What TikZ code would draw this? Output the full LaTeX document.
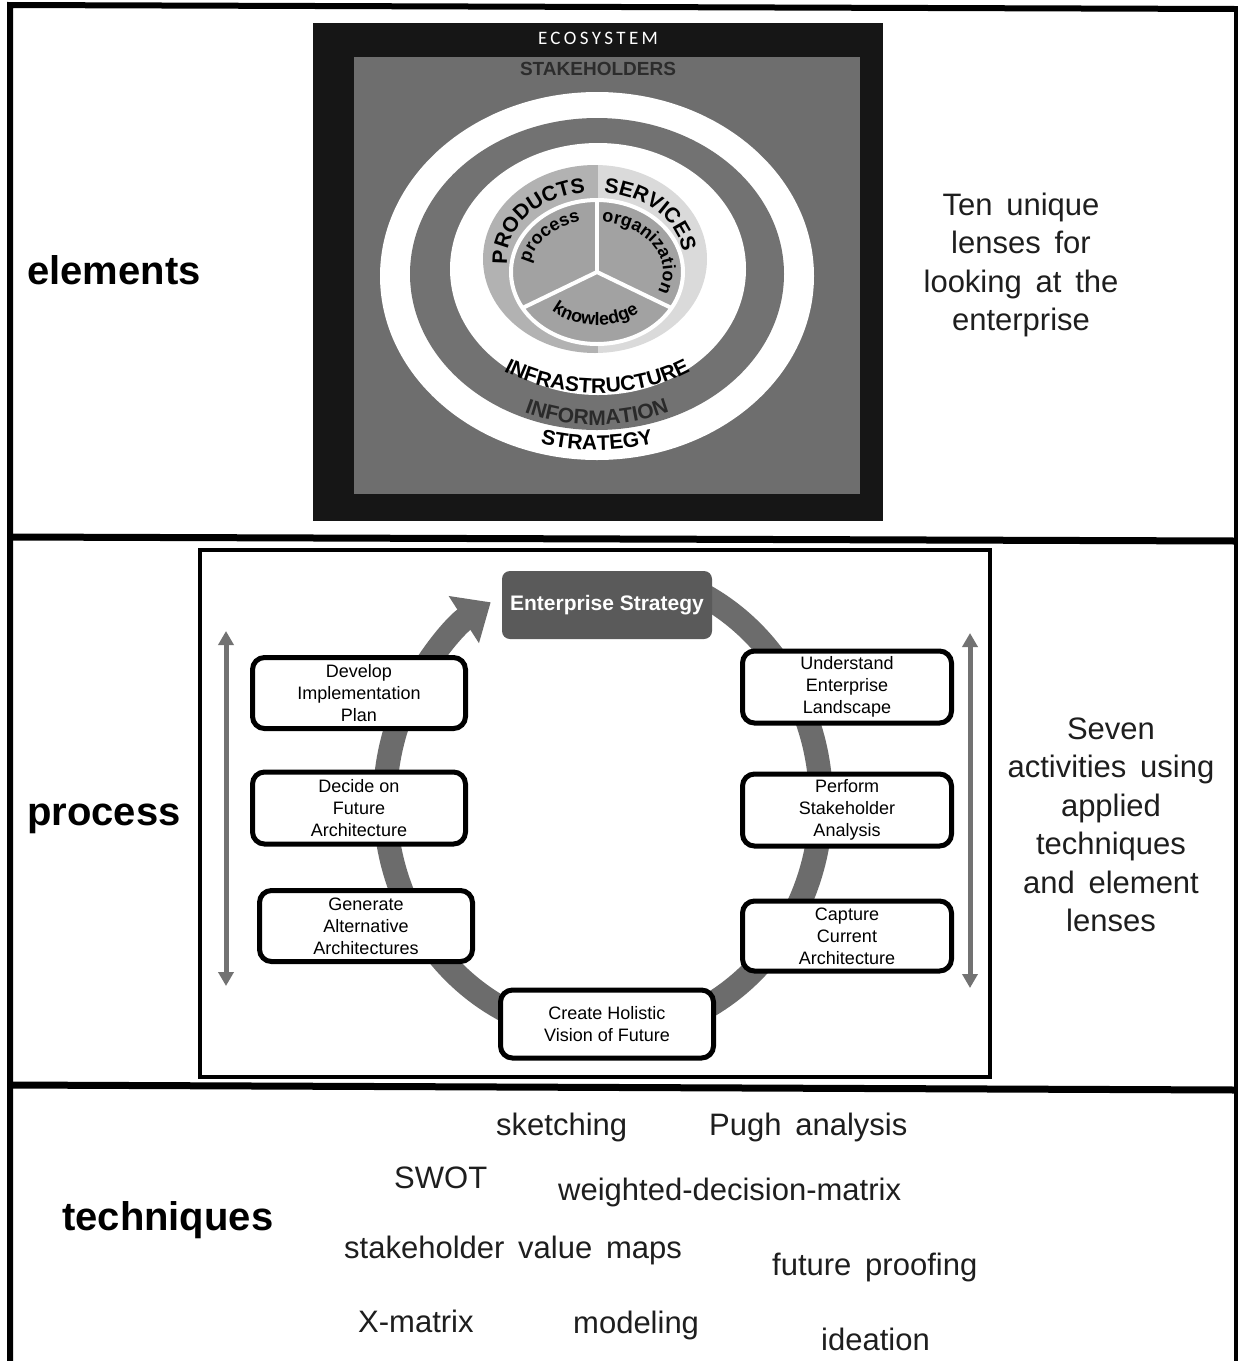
\documentclass[tikz,border=0pt]{standalone}
\usepackage{fontspec}
\setmainfont{Liberation Sans}
\newfontfamily\ecofont[LetterSpace=18]{Carlito}
\newfontfamily\widefont[WordSpace=1.6]{Liberation Sans}
\usetikzlibrary{arrows.meta,decorations.text,calc}

\definecolor{ecoblack}{HTML}{161616}
\definecolor{ecogray}{HTML}{6E6E6E}
\definecolor{ringgray}{HTML}{727272}
\definecolor{prodgray}{HTML}{B2B2B2}
\definecolor{servgray}{HTML}{DADADA}
\definecolor{piegray}{HTML}{A2A2A2}
\definecolor{stakegray}{HTML}{2C2C2C}
\definecolor{infogray}{HTML}{2A2A2A}
\definecolor{cyclegray}{HTML}{6C6C6C}
\definecolor{esgray}{HTML}{5A5A5A}
\definecolor{vgray}{HTML}{727272}
\definecolor{inkgray}{HTML}{1E1E1E}

\newcommand\ringfont{\bfseries\fontsize{21}{21}\selectfont}
\newcommand\piefont{\bfseries\fontsize{18}{18}\selectfont}
\newcommand\boxfont{\fontsize{18}{22}\selectfont}
\newcommand\labfont{\bfseries\fontsize{40}{48}\selectfont}
\newcommand\sidefont{\widefont\fontsize{31}{38.5}\selectfont}
\newcommand\techfont{\widefont\fontsize{31}{36}\selectfont}

\tikzset{
  arctext/.style 2 args={decorate, decoration={text along path, text align=center, text color=#1, text={#2}}},
  actbox/.style={draw=black, line width=5pt, rounded corners=12pt, fill=white, align=center, font=\boxfont, inner sep=0pt},
  sectionlabel/.style={anchor=base west, font=\labfont, inner sep=0pt},
  sidetext/.style={align=center, font=\sidefont, inner sep=0pt, text=inkgray},
  techword/.style={anchor=mid west, font=\techfont, inner sep=0pt, text=inkgray},
  framerule/.style={line width=6pt, line cap=rect},
  dblarrow/.style={draw=vgray, line width=5pt, {Triangle[width=15pt,length=14pt]}-{Triangle[width=15pt,length=14pt]}},
}

\begin{document}
\begin{tikzpicture}[x=1pt,y=1pt]
\useasboundingbox (0,0) rectangle (1238,-1361);
\fill[white] (0,0) rectangle (1238,-1361);

% ---------- outer frame ----------
\draw[framerule] (10,-1361) -- (10,-5) -- (1236,-9);
\draw[line width=4pt] (1236,-9) -- (1236,-1361);
\draw[line width=7pt] (10,-537) -- (1236,-541);
\draw[line width=7pt] (10,-1085) -- (1236,-1090);

% ---------- elements ----------
\node[sectionlabel] (lblelements) at (27,-284) {elements};

\fill[ecoblack] (313,-23) rectangle (883,-521);
\fill[ecogray] (354,-57) rectangle (860,-494);
\node[text=white, font=\ecofont\fontsize{19}{19}\selectfont, inner sep=0pt] (eco) at (598,-38) {ECOSYSTEM};
\node[text=stakegray, font=\bfseries\fontsize{19}{19}\selectfont, inner sep=0pt] (stake) at (598,-69) {STAKEHOLDERS};

\fill[white] (597,-276) ellipse [x radius=217pt, y radius=184pt];
\fill[ringgray] (597,-274) ellipse [x radius=187pt, y radius=156pt];
\fill[white] (598,-269) ellipse [x radius=148pt, y radius=126pt];
\begin{scope}
  \clip (595,-259) ellipse [x radius=112pt, y radius=94pt];
  \fill[prodgray] (470,-150) rectangle (598,-370);
  \fill[servgray] (598,-150) rectangle (730,-370);
\end{scope}
\fill[piegray] (597,-272) ellipse [x radius=86pt, y radius=72pt];
\draw[white, line width=4pt] (597,-272) ellipse [x radius=86pt, y radius=72pt];
\draw[white, line width=4pt] (597,-272) -- ++(90:86pt and 72pt);
\draw[white, line width=4pt] (597,-272) -- ++(210:86pt and 72pt);
\draw[white, line width=4pt] (597,-272) -- ++(330:86pt and 72pt);

\path[arctext={black}{|\ringfont|PRODUCTS}] (595,-259) ++(195:88pt and 67pt) arc[start angle=195, end angle=88, x radius=88pt, y radius=67pt];
\path[arctext={black}{|\ringfont|SERVICES}] (595,-259) ++(98:88pt and 67pt) arc[start angle=98, end angle=-12, x radius=88pt, y radius=67pt];
\path[arctext={black}{|\piefont|process}] (597,-272) ++(195:68pt and 52pt) arc[start angle=195, end angle=85, x radius=68pt, y radius=52pt];
\path[arctext={black}{|\piefont|organization}] (597,-272) ++(100:66pt and 50pt) arc[start angle=100, end angle=-40, x radius=66pt, y radius=50pt];
\path[arctext={black}{|\piefont|knowledge}] (597,-272) ++(203:66pt and 53pt) arc[start angle=203, end angle=333, x radius=66pt, y radius=53pt];
\path[arctext={black}{|\ringfont|INFRASTRUCTURE}] (597,-277) ++(215:160pt and 116pt) arc[start angle=215, end angle=325, x radius=160pt, y radius=116pt];
\path[arctext={infogray}{|\ringfont|INFORMATION}] (597,-277) ++(220:177pt and 148pt) arc[start angle=220, end angle=320, x radius=177pt, y radius=148pt];
\path[arctext={black}{|\ringfont|STRATEGY}] (597,-277) ++(230:204pt and 173pt) arc[start angle=230, end angle=310, x radius=204pt, y radius=173pt];

\node[sidetext] (lenses) at (1021,-265) {Ten unique\\lenses for\\looking at the\\enterprise};

% ---------- process ----------
\node[sectionlabel] (lblprocess) at (27,-825) {process};
\draw[line width=4pt] (200,-550) rectangle (990,-1077);

\coordinate (cyclestart) at ($(603,-802)+(62:218pt and 233pt)$);
\draw[cyclegray, line width=24pt, -{Triangle[width=54pt,length=32pt]}] (cyclestart) arc[start angle=62, end angle=-239, x radius=218pt, y radius=233pt];

\node[fill=esgray, rounded corners=8pt, minimum width=210pt, minimum height=68pt, inner sep=0pt, text=white, font=\bfseries\fontsize{21}{21}\selectfont] (es) at (607,-605) {Enterprise Strategy};

\node[actbox, minimum width=213pt, minimum height=71pt] (dev) at (359,-693) {Develop\\Implementation\\Plan};
\node[actbox, minimum width=213pt, minimum height=72pt] (dec) at (359,-808) {Decide on\\Future\\Architecture};
\node[actbox, minimum width=213pt, minimum height=71pt] (gen) at (366,-926) {Generate\\Alternative\\Architectures};
\node[actbox, minimum width=209pt, minimum height=72pt] (und) at (847,-687) {Understand\\Enterprise\\Landscape};
\node[actbox, minimum width=209pt, minimum height=72pt] (perf) at (847,-810) {Perform\\Stakeholder\\Analysis};
\node[actbox, minimum width=209pt, minimum height=70pt] (cap) at (847,-936) {Capture\\Current\\Architecture};
\node[actbox, minimum width=213pt, minimum height=68pt] (cre) at (607,-1024) {Create Holistic\\Vision of Future};

\coordinate (ltop) at (226,-631);
\coordinate (lbot) at (226,-986);
\coordinate (rtop) at (970,-633);
\coordinate (rbot) at (970,-988);
\draw[dblarrow] (ltop) -- (lbot);
\draw[dblarrow] (rtop) -- (rbot);

\node[sidetext] (seven) at (1111,-825) {Seven\\activities using\\applied\\techniques\\and element\\lenses};

% ---------- techniques ----------
\node[sectionlabel] (lbltech) at (62,-1230) {techniques};
\node[techword] (t1) at (496,-1133) {sketching};
\node[techword] (t2) at (709,-1133) {Pugh analysis};
\node[techword] (t3) at (394,-1186) {SWOT};
\node[techword] (t4) at (558,-1198) {weighted-decision-matrix};
\node[techword] (t5) at (344,-1256) {stakeholder value maps};
\node[techword] (t6) at (772,-1273) {future proofing};
\node[techword] (t7) at (358,-1330) {X-matrix};
\node[techword] (t8) at (573,-1331) {modeling};
\node[techword] (t9) at (821,-1348) {ideation};
\end{tikzpicture}
\end{document}
